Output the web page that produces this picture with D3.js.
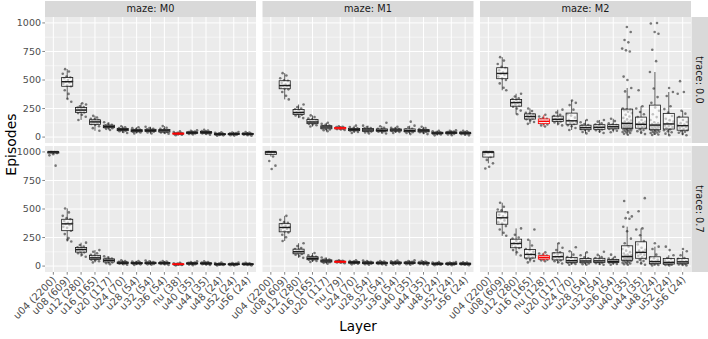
<!DOCTYPE html>
<html>
<head>
<meta charset="utf-8">
<script src="https://cdn.jsdelivr.net/npm/d3@7"></script>
<style>
body { margin: 0; background: #fff; }
svg { display: block; }
text { font-family: "DejaVu Sans", sans-serif; }
</style>
</head>
<body>
<svg id="chart" width="708" height="339"></svg>
<script>
// facet labels
var mazes = ["M0", "M1", "M2"];
var traces = ["0.0", "0.7"];
var yTicks = [0, 250, 500, 750, 1000];

// layer order per maze (x axis is free per column)
var cats_M0 = ["u04 (2200)", "u08 (609)", "u12 (280)", "u16 (165)", "u20 (117)", "u24 (70)", "u28 (54)", "u32 (54)", "u36 (54)", "nu (38)", "u40 (35)", "u44 (35)", "u48 (24)", "u52 (24)", "u56 (24)"];
var cats_M1 = ["u04 (2200)", "u08 (609)", "u12 (280)", "u16 (165)", "u20 (117)", "nu (79)", "u24 (70)", "u28 (54)", "u32 (54)", "u36 (54)", "u40 (35)", "u44 (35)", "u48 (24)", "u52 (24)", "u56 (24)"];
var cats_M2 = ["u04 (2200)", "u08 (609)", "u12 (280)", "u16 (165)", "nu (128)", "u20 (117)", "u24 (70)", "u28 (54)", "u32 (54)", "u36 (54)", "u40 (35)", "u44 (35)", "u48 (24)", "u52 (24)", "u56 (24)"];

// episodes, one list per layer
var ep_M0_t00 = [
	[],
	[378, 410, 445, 452, 468, 478, 485, 488, 500, 515, 522, 530, 555, 575, 595, 310, 335],
	[178, 195, 210, 216, 222, 230, 235, 238, 240, 248, 258, 262, 270, 285, 296, 150],
	[78, 95, 108, 115, 120, 128, 133, 136, 140, 148, 155, 160, 172, 186, 55],
	[62, 72, 78, 82, 86, 90, 92, 94, 98, 104, 108, 116, 130],
	[36, 45, 52, 56, 60, 63, 65, 67, 70, 75, 78, 86, 95],
	[32, 40, 44, 47, 52, 54, 56, 58, 62, 65, 70, 78, 86],
	[32, 40, 46, 50, 54, 57, 58, 60, 64, 68, 72, 80, 90],
	[30, 36, 40, 44, 50, 53, 55, 58, 62, 67, 72, 82, 96],
	[16, 20, 24, 26, 28, 29, 30, 31, 33, 35, 38, 44, 50],
	[22, 27, 31, 33, 36, 37, 38, 40, 42, 45, 48, 54, 60],
	[21, 27, 31, 34, 37, 39, 40, 42, 45, 48, 52, 57, 63],
	[11, 15, 19, 21, 23, 24, 25, 26, 28, 30, 33, 37, 42],
	[13, 17, 21, 23, 25, 26, 27, 28, 30, 32, 35, 40, 45],
	[12, 17, 21, 23, 25, 26, 27, 28, 30, 32, 34, 39, 44]
];
var ep_M0_t07 = [
	[1000, 1000, 1000, 1000, 1000, 1000, 1000, 1000, 1000, 990, 980, 970, 880],
	[245, 280, 310, 335, 345, 360, 370, 375, 380, 395, 410, 420, 440, 470, 505, 215, 230],
	[82, 100, 112, 120, 128, 138, 143, 146, 150, 158, 165, 170, 185, 205],
	[32, 42, 50, 56, 62, 67, 70, 72, 78, 86, 90, 98, 112, 125, 140],
	[16, 25, 32, 36, 42, 47, 50, 52, 57, 63, 66, 74, 85],
	[12, 17, 21, 23, 25, 27, 28, 29, 32, 35, 38, 43, 50],
	[10, 15, 19, 21, 23, 24, 25, 27, 29, 32, 35, 40, 45],
	[11, 15, 19, 21, 24, 25, 26, 28, 30, 33, 36, 42, 48],
	[10, 15, 19, 21, 23, 25, 26, 27, 29, 32, 35, 40, 45],
	[5, 9, 11, 12, 14, 15, 16, 17, 18, 20, 22, 25, 28],
	[8, 13, 17, 19, 21, 22, 23, 24, 26, 28, 31, 36, 42],
	[9, 13, 17, 19, 21, 22, 23, 24, 26, 28, 30, 35, 41],
	[5, 9, 11, 12, 14, 15, 16, 17, 18, 20, 23, 26, 30],
	[5, 8, 11, 12, 14, 15, 16, 17, 18, 20, 22, 26, 30],
	[6, 9, 11, 13, 14, 15, 16, 17, 18, 20, 22, 25, 29]
];
var ep_M1_t00 = [
	[],
	[362, 395, 418, 425, 435, 445, 450, 453, 460, 475, 492, 498, 515, 540, 560, 330],
	[166, 180, 190, 196, 202, 210, 214, 216, 222, 235, 244, 250, 262, 285],
	[92, 103, 110, 116, 122, 128, 131, 133, 138, 148, 155, 162, 175, 190],
	[52, 60, 67, 71, 78, 84, 87, 89, 92, 97, 100, 108, 116, 125],
	[62, 67, 70, 72, 75, 77, 79, 80, 82, 85, 87, 90, 95],
	[36, 45, 52, 56, 60, 63, 65, 67, 70, 76, 79, 88, 100],
	[32, 41, 48, 51, 56, 60, 62, 64, 68, 76, 79, 88, 100],
	[31, 40, 47, 51, 54, 57, 58, 60, 63, 69, 72, 82, 95, 125],
	[36, 44, 50, 53, 57, 60, 62, 63, 66, 71, 74, 81, 90],
	[26, 36, 43, 46, 50, 53, 55, 57, 62, 69, 72, 85, 100, 135],
	[26, 35, 42, 46, 50, 53, 55, 57, 61, 67, 70, 80, 90],
	[15, 22, 26, 29, 31, 34, 35, 36, 38, 42, 45, 50, 55],
	[16, 23, 28, 31, 34, 36, 38, 39, 41, 45, 48, 54, 60],
	[15, 21, 26, 29, 31, 33, 35, 36, 39, 42, 45, 50, 55]
];
var ep_M1_t07 = [
	[1000, 1000, 1000, 1000, 1000, 1000, 1000, 1000, 998, 995, 990, 985, 960, 920, 880, 850],
	[252, 275, 295, 305, 315, 328, 338, 342, 350, 365, 378, 385, 405, 440, 220],
	[72, 88, 100, 106, 112, 120, 124, 127, 133, 143, 150, 158, 175, 200],
	[36, 45, 52, 56, 60, 65, 68, 70, 74, 82, 86, 95, 115],
	[21, 28, 33, 36, 40, 43, 45, 46, 49, 54, 57, 64, 75],
	[25, 29, 32, 33, 35, 37, 38, 39, 40, 43, 44, 47, 50],
	[15, 20, 24, 26, 29, 31, 32, 33, 35, 38, 40, 45, 50],
	[12, 17, 21, 23, 25, 27, 28, 29, 32, 35, 38, 43, 48],
	[10, 15, 19, 21, 24, 26, 27, 28, 30, 33, 36, 40, 45],
	[13, 17, 21, 23, 25, 27, 28, 29, 31, 35, 37, 42, 48],
	[12, 17, 21, 23, 26, 27, 28, 30, 32, 35, 38, 44, 50],
	[10, 15, 19, 21, 23, 25, 26, 27, 30, 33, 35, 40, 45],
	[8, 11, 14, 16, 17, 19, 20, 21, 23, 25, 27, 31, 35],
	[8, 11, 14, 16, 18, 19, 20, 21, 23, 26, 28, 31, 35],
	[8, 11, 14, 15, 17, 19, 20, 21, 22, 25, 27, 30, 32]
];
var ep_M2_t00 = [
	[],
	[432, 470, 500, 515, 530, 545, 555, 560, 565, 585, 605, 615, 640, 670, 700, 410],
	[232, 250, 265, 276, 285, 295, 302, 306, 312, 325, 334, 340, 355, 380, 200],
	[116, 132, 145, 156, 163, 172, 178, 182, 188, 198, 205, 212, 228, 250],
	[92, 102, 110, 116, 123, 132, 136, 140, 145, 155, 160, 168, 180, 195],
	[102, 118, 128, 136, 142, 150, 154, 157, 165, 178, 185, 195, 215, 240],
	[62, 80, 95, 104, 115, 126, 133, 137, 148, 170, 188, 200, 240, 280, 300, 320],
	[32, 45, 55, 63, 70, 77, 81, 84, 90, 100, 105, 115, 130, 150],
	[36, 50, 60, 66, 73, 80, 84, 87, 93, 104, 110, 120, 135, 150],
	[42, 55, 64, 71, 77, 85, 89, 92, 97, 105, 110, 120, 140, 160],
	[20, 28, 35, 40, 45, 50, 54, 58, 62, 66, 70, 73, 76, 79, 82, 85, 88, 91, 94, 97, 100, 103, 106, 110, 115, 120, 128, 136, 145, 155, 168, 180, 195, 210, 222, 235, 238, 240, 250, 350, 400, 430, 500, 530, 750, 760, 775, 830, 850, 920, 965],
	[26, 40, 52, 62, 68, 78, 88, 96, 100, 105, 112, 122, 128, 134, 150, 175, 200, 220, 250, 270, 410],
	[18, 22, 30, 35, 40, 44, 48, 55, 60, 62, 66, 70, 75, 80, 85, 90, 95, 98, 102, 105, 110, 115, 120, 130, 150, 175, 200, 230, 260, 300, 350, 425, 570, 665, 765, 905, 920, 995, 1000],
	[16, 30, 42, 52, 60, 68, 78, 88, 96, 102, 110, 120, 135, 148, 160, 185, 215, 245, 270, 360, 395, 430],
	[16, 28, 38, 46, 52, 60, 70, 80, 88, 94, 100, 110, 122, 132, 150, 175, 205, 230, 380, 395, 490]
];
var ep_M2_t07 = [
	[1000, 1000, 1000, 1000, 1000, 1000, 1000, 1000, 998, 995, 990, 980, 955, 930, 900, 870, 855],
	[292, 320, 350, 372, 385, 400, 418, 428, 435, 450, 470, 488, 495, 520, 555, 265],
	[92, 120, 140, 158, 168, 180, 195, 200, 208, 222, 240, 250, 275, 330],
	[32, 45, 58, 66, 75, 85, 95, 102, 110, 125, 140, 150, 180, 230, 320],
	[42, 50, 56, 60, 65, 70, 74, 77, 80, 88, 92, 100, 110, 120],
	[22, 33, 42, 50, 58, 68, 76, 82, 90, 102, 112, 120, 140, 160, 200],
	[12, 18, 24, 28, 32, 38, 43, 47, 53, 62, 72, 80, 100, 130, 165],
	[11, 17, 23, 28, 33, 38, 43, 46, 52, 60, 68, 76, 95, 120],
	[11, 18, 25, 30, 35, 40, 44, 47, 53, 62, 70, 78, 98, 125],
	[11, 18, 25, 30, 33, 37, 40, 42, 46, 53, 60, 66, 80, 100],
	[12, 16, 22, 26, 30, 35, 38, 44, 48, 52, 56, 60, 66, 69, 72, 75, 78, 82, 85, 92, 95, 100, 110, 122, 135, 150, 170, 200, 240, 305, 345, 415, 420, 435, 470, 570],
	[12, 25, 35, 45, 55, 65, 78, 90, 98, 105, 115, 125, 135, 142, 160, 190, 220, 270, 320, 330, 480, 595],
	[6, 10, 14, 18, 22, 28, 33, 37, 42, 55, 68, 75, 100, 150, 170, 200],
	[6, 9, 12, 15, 20, 25, 29, 32, 38, 50, 62, 70, 95, 140, 170],
	[6, 10, 14, 18, 23, 29, 34, 37, 42, 52, 63, 70, 95, 130, 150]
];

var facets = [
	{ maze: mazes[0], cats: cats_M0, rows: [ep_M0_t00, ep_M0_t07] },
	{ maze: mazes[1], cats: cats_M1, rows: [ep_M1_t00, ep_M1_t07] },
	{ maze: mazes[2], cats: cats_M2, rows: [ep_M2_t00, ep_M2_t07] }
];

// layout
var svg = d3.select("#chart");
var panelW = 211, colGap = 6.5, left = 45;
var stripH = 16, top0 = 17, panelH = 126, rowGap = 3;
var textCol = "#4D4D4D";

function boxStats(values) {
	var v = values.slice().sort(d3.ascending);
	var q1 = d3.quantile(v, 0.25), med = d3.quantile(v, 0.5), q3 = d3.quantile(v, 0.75);
	var iqr = q3 - q1;
	var lo = d3.min(v.filter(function(d) { return d >= q1 - 1.5 * iqr; }));
	var hi = d3.max(v.filter(function(d) { return d <= q3 + 1.5 * iqr; }));
	return { q1: q1, med: med, q3: q3, lo: lo, hi: hi };
}

// deterministic horizontal spread for the jittered points
function jit(i) {
	var f = (i * 0.618034 + 0.31) % 1;
	return f - 0.5;
}

facets.forEach(function(f, c) {
	var x0 = left + c * (panelW + colGap);
	var x = d3.scalePoint().domain(f.cats).range([x0, x0 + panelW]).padding(0.6);
	var step = x.step();

	// top strip
	svg.append("rect").attr("x", x0).attr("y", 1).attr("width", panelW).attr("height", stripH)
		.attr("fill", "#D9D9D9");
	svg.append("text").attr("x", x0 + panelW / 2).attr("y", 1 + stripH / 2).attr("dy", "0.35em")
		.attr("text-anchor", "middle").attr("font-size", "9.8px").attr("fill", "#1A1A1A")
		.text("maze: " + f.maze);

	f.rows.forEach(function(rowData, r) {
		var y0 = top0 + r * (panelH + rowGap);
		var y = d3.scaleLinear().domain([-52, 1052]).range([y0 + panelH, y0]);
		var g = svg.append("g");

		g.append("rect").attr("x", x0).attr("y", y0).attr("width", panelW).attr("height", panelH)
			.attr("fill", "#EBEBEB");

		// grid
		[125, 375, 625, 875].forEach(function(t) {
			g.append("line").attr("x1", x0).attr("x2", x0 + panelW).attr("y1", y(t)).attr("y2", y(t))
				.attr("stroke", "#fff").attr("stroke-width", 0.5);
		});
		yTicks.forEach(function(t) {
			g.append("line").attr("x1", x0).attr("x2", x0 + panelW).attr("y1", y(t)).attr("y2", y(t))
				.attr("stroke", "#fff").attr("stroke-width", 1);
		});
		f.cats.forEach(function(cat) {
			g.append("line").attr("x1", x(cat)).attr("x2", x(cat)).attr("y1", y0).attr("y2", y0 + panelH)
				.attr("stroke", "#fff").attr("stroke-width", 1);
		});

		// jittered points
		f.cats.forEach(function(cat, i) {
			var vals = rowData[i];
			g.selectAll(null).data(vals).enter().append("circle")
				.attr("cx", function(d, j) { return x(cat) + jit(j + i * 7) * 0.72 * step; })
				.attr("cy", function(d) { return y(d); })
				.attr("r", 1.3)
				.attr("fill", "#000").attr("fill-opacity", 0.5);
		});

		// boxplots
		f.cats.forEach(function(cat, i) {
			var vals = rowData[i];
			if (!vals.length) return;
			var s = boxStats(vals);
			var isNu = cat.indexOf("nu") === 0;
			var col = isNu ? "#FF0000" : "#1A1A1A";
			var bw = 0.8 * step, cx = x(cat);
			g.append("line").attr("x1", cx).attr("x2", cx).attr("y1", y(s.q3)).attr("y2", y(s.hi))
				.attr("stroke", col).attr("stroke-width", 0.7);
			g.append("line").attr("x1", cx).attr("x2", cx).attr("y1", y(s.q1)).attr("y2", y(s.lo))
				.attr("stroke", col).attr("stroke-width", 0.7);
			g.append("rect").attr("x", cx - bw / 2).attr("width", bw)
				.attr("y", y(s.q3)).attr("height", Math.max(0, y(s.q1) - y(s.q3)))
				.attr("fill", "#fff").attr("fill-opacity", isNu ? 0.8 : 0.55)
				.attr("stroke", col).attr("stroke-width", 0.8);
			g.append("line").attr("x1", cx - bw / 2).attr("x2", cx + bw / 2).attr("y1", y(s.med)).attr("y2", y(s.med))
				.attr("stroke", col).attr("stroke-width", 1.4);
		});

		// y axis (first column only)
		if (c === 0) {
			yTicks.forEach(function(t) {
				svg.append("line").attr("x1", x0 - 2.7).attr("x2", x0).attr("y1", y(t)).attr("y2", y(t))
					.attr("stroke", "#333").attr("stroke-width", 0.6);
				svg.append("text").attr("x", x0 - 4).attr("y", y(t)).attr("dy", "0.35em")
					.attr("text-anchor", "end").attr("font-size", "9.5px").attr("fill", textCol).text(t);
			});
		}

		// right strip (last column only)
		if (c === facets.length - 1) {
			var sx = x0 + panelW + 0.5;
			svg.append("rect").attr("x", sx).attr("y", y0).attr("width", 16.5).attr("height", panelH)
				.attr("fill", "#D9D9D9");
			svg.append("text")
				.attr("transform", "translate(" + (sx + 8.25) + "," + (y0 + panelH / 2) + ") rotate(90)")
				.attr("dy", "0.35em").attr("text-anchor", "middle")
				.attr("font-size", "9.8px").attr("fill", "#1A1A1A").text("trace: " + traces[r]);
		}

		// x axis (bottom row)
		if (r === f.rows.length - 1) {
			var yb = y0 + panelH;
			f.cats.forEach(function(cat) {
				svg.append("line").attr("x1", x(cat)).attr("x2", x(cat)).attr("y1", yb).attr("y2", yb + 2.7)
					.attr("stroke", "#333").attr("stroke-width", 0.6);
				svg.append("text")
					.attr("transform", "translate(" + (x(cat) + 1) + "," + (yb + 6) + ") rotate(-45)")
					.attr("dy", "0.35em").attr("text-anchor", "end")
					.attr("font-size", "10px").attr("fill", textCol).text(cat);
			});
		}
	});
});

// axis titles
svg.append("text").attr("x", 358).attr("y", 331).attr("text-anchor", "middle")
	.attr("font-size", "13.5px").attr("fill", "#000").text("Layer");
svg.append("text").attr("transform", "translate(11,144.5) rotate(-90)")
	.attr("text-anchor", "middle").attr("dy", "0.35em")
	.attr("font-size", "14px").attr("fill", "#000").text("Episodes");
</script>
</body>
</html>
